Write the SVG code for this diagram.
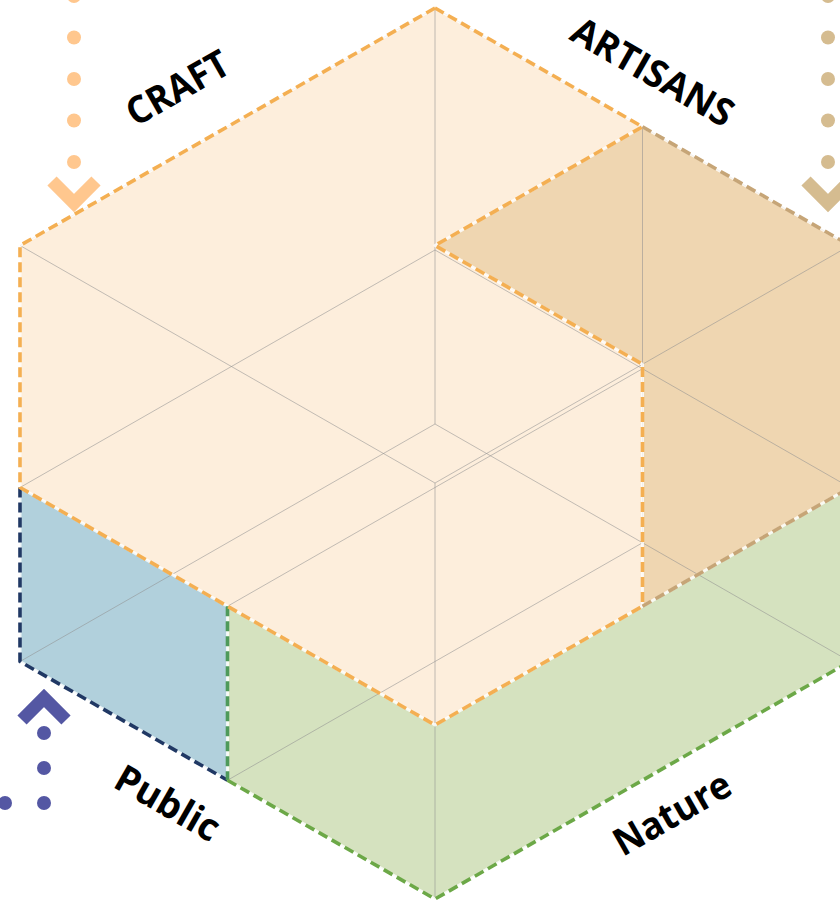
<svg xmlns="http://www.w3.org/2000/svg" width="840" height="901" viewBox="0 0 840 901">
  <style>
    .grid { fill: none; stroke: #8f8f8f; stroke-width: 1; stroke-opacity: 0.55; }
    .under { fill: none; stroke: #ffffff; stroke-width: 3; stroke-opacity: 0.8; stroke-linejoin: round; }
    .dash { fill: none; stroke-width: 3.6; stroke-dasharray: 10 5; stroke-linejoin: round; }
    .orange { stroke: #F4AF52; }
    .tan { stroke: #C6A577; }
    .navy { stroke: #203864; }
    .gdark { stroke: #4E9A5A; }
    .green { stroke: #6CA847; }
    .label { font-family: "Open Sans", "Liberation Sans", sans-serif; font-weight: 700; font-size: 38px; fill: #000; text-anchor: middle; }
    .chev { fill: none; stroke-width: 13; stroke-linecap: butt; stroke-linejoin: miter; }
  </style>
  <rect width="840" height="901" fill="#ffffff"/>

  <g id="craft">
    <polygon points="435,8 20,245.5 20,487.5 227.5,606.25 435,725 642.5,606.25 642.5,364.25 435,245.5 642.5,126.75" fill="#FDEEDC"/>
  </g>
  <g id="artisans">
    <polygon points="642.5,126.75 435,245.5 642.5,364.25 642.5,606.25 850,487.5 850,245.5" fill="#EFD6B1"/>
  </g>
  <g id="public">
    <polygon points="20,487.5 227.5,606.25 227.5,780.25 20,661.5" fill="#B1D0DC"/>
  </g>
  <g id="nature">
    <polygon points="227.5,606.25 435,725 642.5,606.25 850,487.5 850,661.5 435,899 227.5,780.25" fill="#D5E2BF"/>
  </g>

  <g id="grid-lines">
    <path class="grid" d="M435 8 V424"/>
    <path class="grid" d="M435 483 V899"/>
    <path class="grid" d="M20 245.5 L435 483 L850 245.5"/>
    <path class="grid" d="M20 487.5 L435 250 L850 487.5"/>
    <path class="grid" d="M20 661.5 L435 424 L850 661.5"/>
    <path class="grid" d="M227.5 606.25 L642.5 368.75"/>
    <path class="grid" d="M227.5 780.25 L642.5 542.75"/>
    <path class="grid" d="M642.5 126.75 V542.75"/>
    <path class="grid" d="M435 8 L20 245.5 M435 8 L850 245.5"/>
  </g>

  <g id="outlines">
    <path class="under" d="M435 8 L20 245.5 L20 661.5 L435 899 L850 661.5 M20 487.5 L435 725 L850 487.5 M435 8 L642.5 126.75 L850 245.5 M642.5 126.75 L435 245.5 L642.5 364.25 L642.5 606.25 M227.5 606.25 V780.25"/>
    <path class="dash navy" d="M20 487.5 L20 661.5 L227.5 780.25"/>
    <path class="dash gdark" d="M227.5 606.25 V780.25"/>
    <path class="dash green" d="M227.5 780.25 L435 899 L850 661.5"/>
    <path class="dash tan" d="M642.5 126.75 L850 245.5 M642.5 606.25 L850 487.5"/>
    <path class="dash orange" d="M435 8 L20 245.5 L20 487.5 L227.5 606.25 L435 725 L642.5 606.25"/>
    <path class="dash orange" d="M435 8 L642.5 126.75 L435 245.5 L642.5 364.25 L642.5 606.25"/>
  </g>

  <g id="arrow-craft" fill="#FFC78E" stroke="#FFC78E">
    <circle cx="74" cy="-4" r="7" stroke="none"/>
    <circle cx="74" cy="37.5" r="7" stroke="none"/>
    <circle cx="74" cy="79" r="7" stroke="none"/>
    <circle cx="74" cy="120.5" r="7" stroke="none"/>
    <circle cx="74" cy="162" r="7" stroke="none"/>
    <polyline class="chev" points="52,181 74,203 96,181"/>
  </g>
  <g id="arrow-artisans" fill="#D5BC90" stroke="#D5BC90">
    <circle cx="828" cy="-4" r="7" stroke="none"/>
    <circle cx="828" cy="37.5" r="7" stroke="none"/>
    <circle cx="828" cy="79" r="7" stroke="none"/>
    <circle cx="828" cy="120.5" r="7" stroke="none"/>
    <circle cx="828" cy="162" r="7" stroke="none"/>
    <polyline class="chev" points="806,181 828,203 850,181"/>
  </g>
  <g id="arrow-public" fill="#5457A3" stroke="#5457A3">
    <circle cx="5" cy="803" r="7" stroke="none"/>
    <circle cx="44" cy="803" r="7" stroke="none"/>
    <circle cx="44" cy="768" r="7" stroke="none"/>
    <circle cx="44" cy="733" r="7" stroke="none"/>
    <polyline class="chev" points="22,720 44,698 66,720"/>
  </g>

  <g id="labels">
    <text class="label" transform="translate(184.2,99.5) rotate(-29.8)" textLength="112" lengthAdjust="spacingAndGlyphs">CRAFT</text>
    <text class="label" transform="translate(646,83.5) rotate(29.8)" textLength="180" lengthAdjust="spacingAndGlyphs">ARTISANS</text>
    <text class="label" transform="translate(161,814.5) rotate(29.8)" textLength="114" lengthAdjust="spacingAndGlyphs">Public</text>
    <text class="label" transform="translate(678.6,825) rotate(-29.8)" textLength="129" lengthAdjust="spacingAndGlyphs">Nature</text>
  </g>
</svg>
